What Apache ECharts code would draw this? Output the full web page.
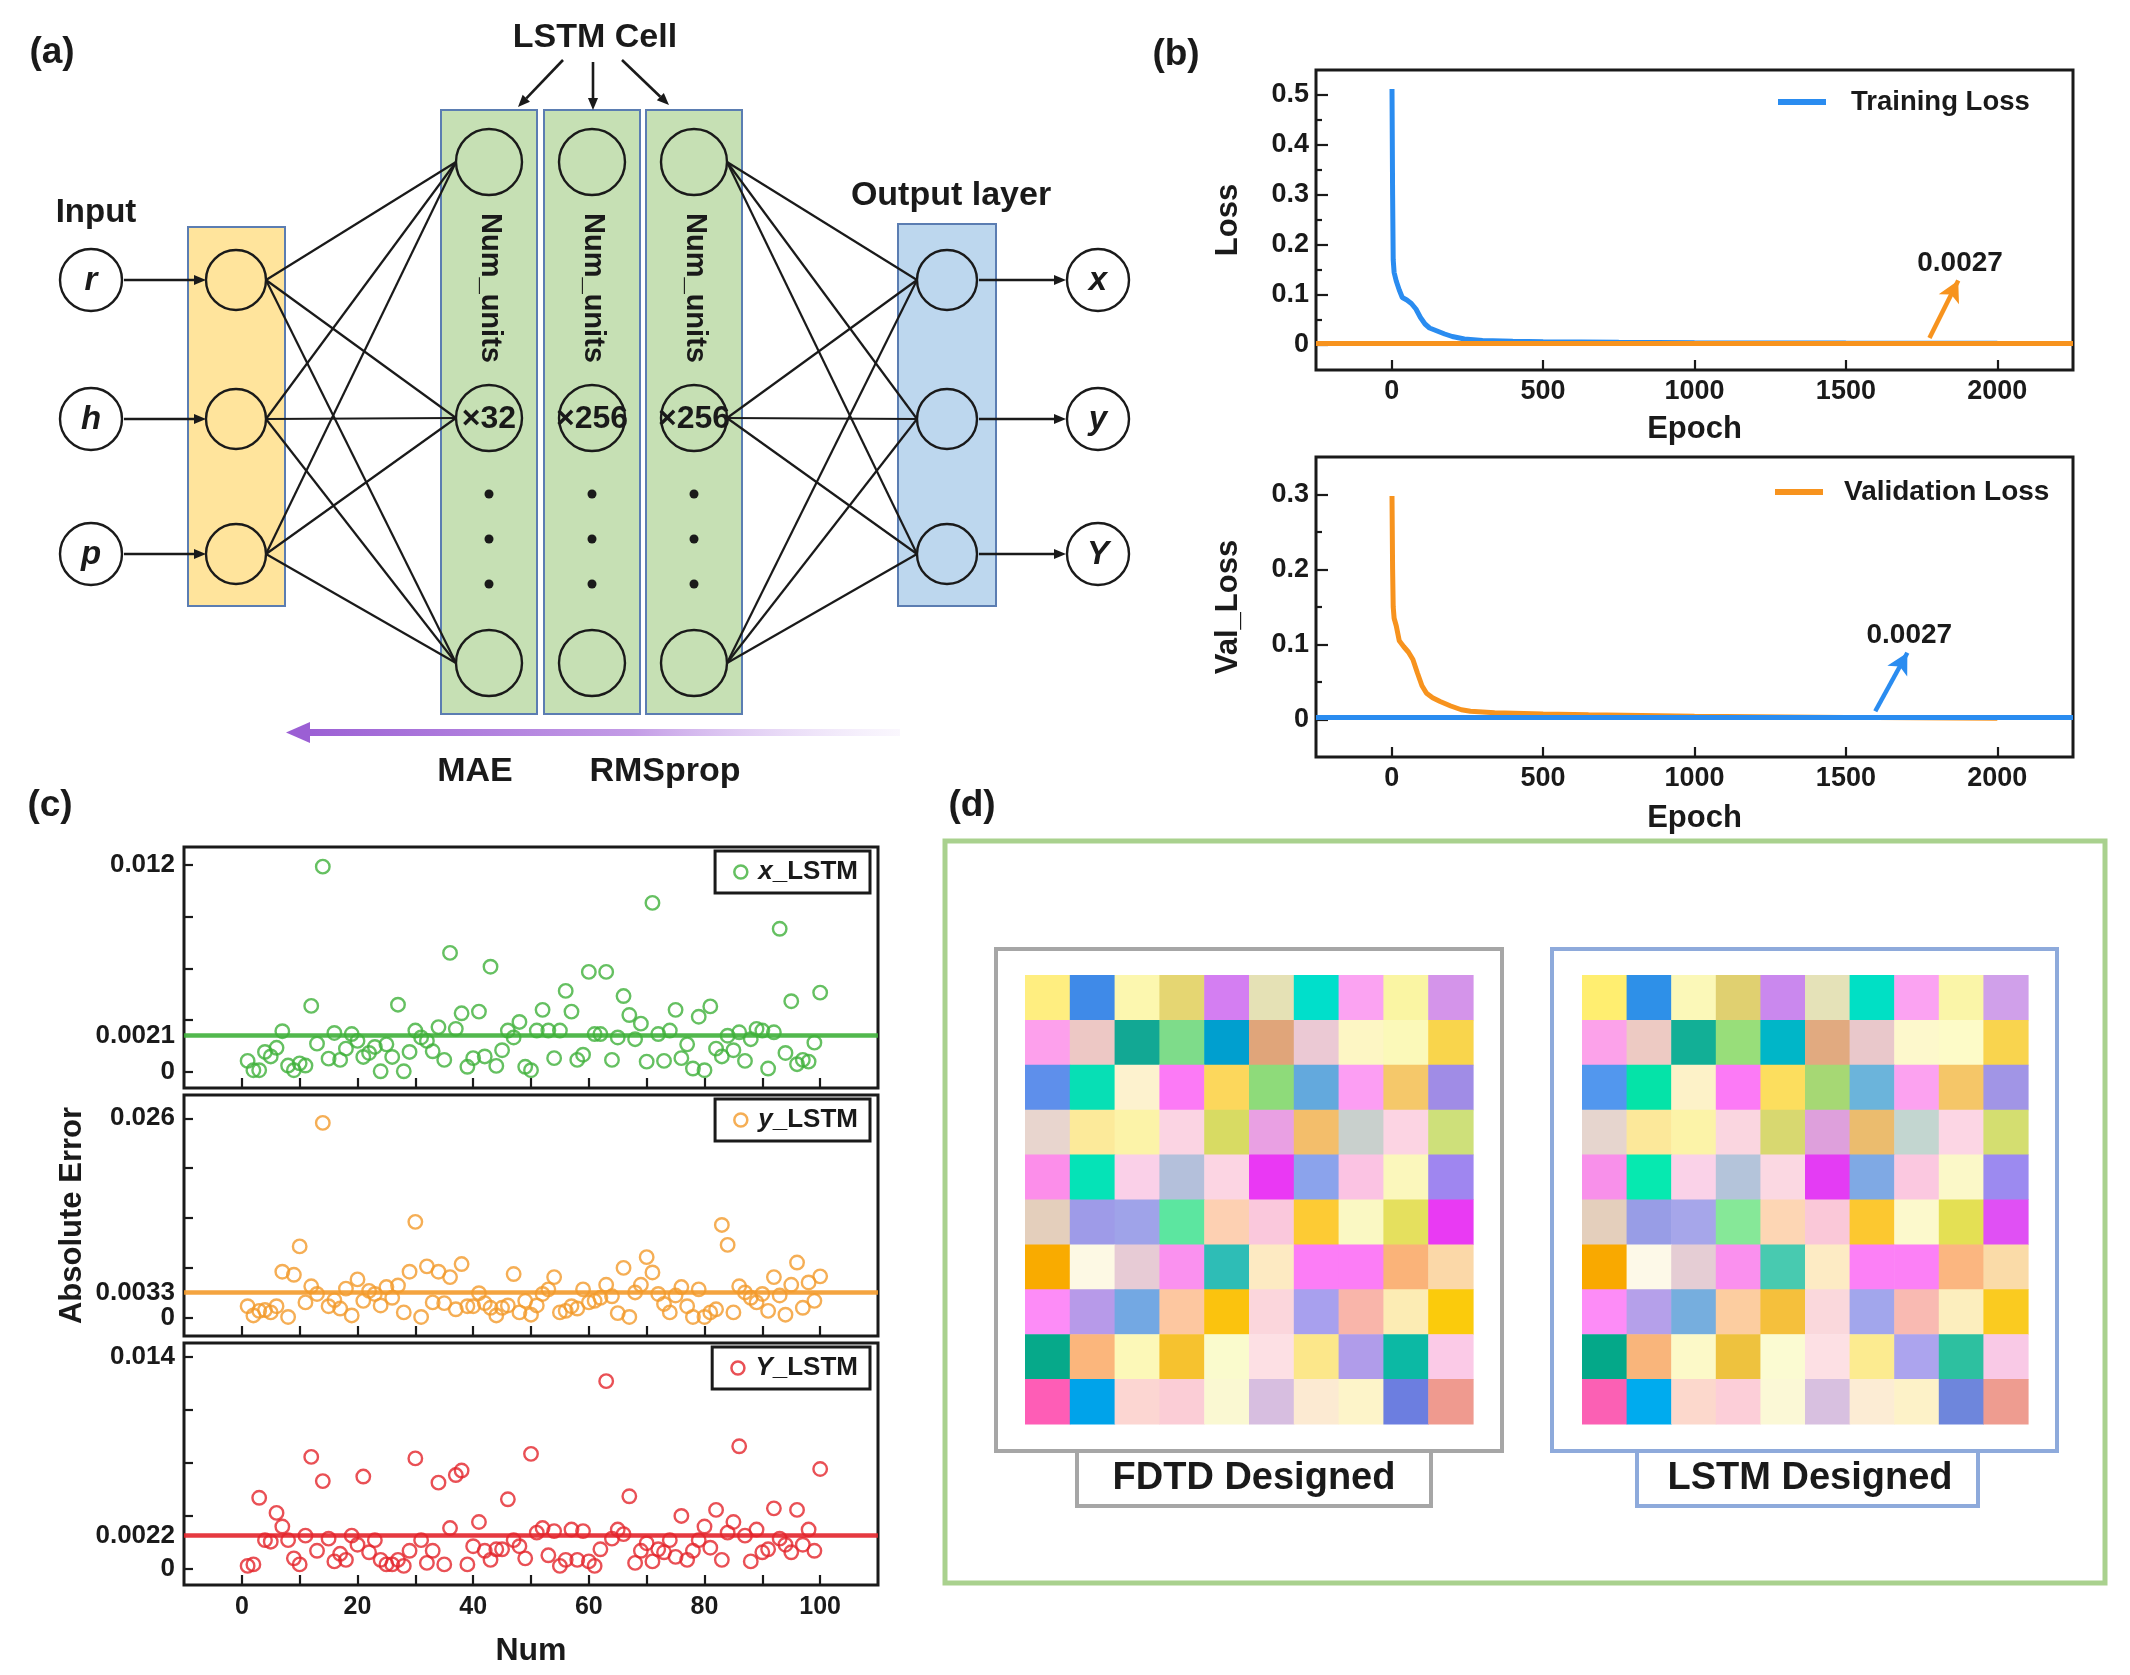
<!DOCTYPE html>
<html><head><meta charset="utf-8">
<script src="https://cdn.jsdelivr.net/npm/echarts@6/dist/echarts.min.js"></script>
<style>html,body{margin:0;padding:0;background:#fff}#c{width:2130px;height:1675px}</style>
</head><body><div id="c"></div>
<script>
const FONT = '"Liberation Sans", Arial, Helvetica, sans-serif';

// ---------- (b) loss curves ----------
const trainEpochs = [1,3,5,8,15,25,35,50,65,80,95,110,125,150,175,200,240,300,400,500,750,1000,1500,2000];
const trainLoss   = [0.512,0.30,0.17,0.145,0.128,0.11,0.095,0.09,0.083,0.072,0.055,0.042,0.034,0.028,0.022,0.017,0.012,0.009,0.0075,0.0066,0.0055,0.0047,0.0038,0.0033];
const valEpochs   = [1,3,5,8,15,25,40,55,70,85,100,115,135,160,195,230,260,340,500,650,1000,1300,1600,2000];
const valLoss     = [0.298,0.2,0.15,0.135,0.125,0.105,0.097,0.09,0.08,0.062,0.045,0.035,0.029,0.024,0.018,0.013,0.011,0.009,0.0075,0.0065,0.0045,0.0035,0.0025,0.0015];
const finalLoss = 0.0027;
const epochTicks = [0,500,1000,1500,2000];
const lossLabels = [0,0.1,0.2,0.3,0.4,0.5];
const lossMinorTicks = [0.05,0.15,0.25,0.35,0.45];
const valLossLabels = [0,0.1,0.2,0.3];
const valLossMinorTicks = [0.05,0.15,0.25];

// ---------- (c) absolute errors (samples 1..100) ----------
const xErr = [0.00064,0.0001,0.0001,0.00116,0.0009,0.0014,0.00236,0.00037,0.0001,0.0005,
0.00037,0.00383,0.00164,0.0119,0.00077,0.00226,0.0007,0.00135,0.0022,0.0018,
0.00087,0.0011,0.00145,0.00004,0.0016,0.00087,0.0039,0.00004,0.00116,0.0024,
0.002,0.0018,0.0012,0.0026,0.0007,0.0069,0.0025,0.0034,0.0003,0.0008,
0.0035,0.0009,0.0061,0.00035,0.00126,0.0024,0.002,0.0029,0.0003,0.0001,
0.0024,0.0036,0.0024,0.0008,0.0024,0.0047,0.0035,0.0007,0.001,0.0058,
0.0022,0.0022,0.0058,0.0007,0.002,0.0044,0.0033,0.0019,0.0028,0.0006,
0.0098,0.0022,0.00064,0.0024,0.0036,0.0008,0.0016,0.0002,0.0032,0.0001,
0.0038,0.00135,0.0009,0.0021,0.00126,0.0023,0.00064,0.0019,0.0025,0.0024,
0.0002,0.0023,0.0083,0.0011,0.0041,0.00045,0.0007,0.0006,0.0017,0.0046];
const yErr = [0.0015,0.0003,0.0009,0.001,0.0007,0.0015,0.006,0.0001,0.0056,0.0093,
0.002,0.0041,0.0031,0.0254,0.0015,0.0023,0.0012,0.0038,0.0003,0.005,
0.0022,0.0035,0.0031,0.0016,0.004,0.0026,0.0042,0.0007,0.006,0.0125,
0.0001,0.0067,0.002,0.006,0.0019,0.0053,0.0011,0.007,0.0015,0.0015,
0.0032,0.0019,0.0013,0.0003,0.0013,0.0016,0.0057,0.0007,0.0022,0.0004,
0.0016,0.0031,0.0037,0.0053,0.0007,0.0009,0.0015,0.0012,0.0037,0.002,
0.0022,0.0026,0.0043,0.0028,0.0006,0.0065,0.0001,0.0033,0.0043,0.0079,
0.0059,0.0031,0.0018,0.0007,0.0029,0.004,0.0015,0.0001,0.0037,0.0001,
0.0007,0.0011,0.0121,0.0095,0.0007,0.0041,0.0033,0.0026,0.002,0.0031,
0.0009,0.0053,0.0029,0.0004,0.0043,0.0072,0.0013,0.0046,0.0022,0.0054];
const YErr = [0.0002,0.0003,0.0047,0.0019,0.0018,0.0037,0.0028,0.0019,0.0007,0.0003,
0.0022,0.0074,0.0012,0.0058,0.002,0.0005,0.001,0.0006,0.0022,0.0016,
0.0061,0.0011,0.0019,0.0006,0.0003,0.0003,0.0006,0.0002,0.0012,0.0073,
0.0019,0.0004,0.0012,0.0057,0.0003,0.0027,0.0062,0.0065,0.0003,0.0015,
0.0031,0.0012,0.0006,0.0013,0.0013,0.0046,0.0019,0.0015,0.0007,0.0076,
0.0024,0.0027,0.0009,0.0025,0.0002,0.0006,0.0026,0.0006,0.0025,0.0005,
0.0002,0.0013,0.0124,0.002,0.0026,0.0023,0.0048,0.0004,0.0012,0.0017,
0.0005,0.0013,0.0011,0.0019,0.0008,0.0035,0.0006,0.0012,0.0019,0.0028,
0.0014,0.0039,0.0006,0.0024,0.0031,0.0081,0.0022,0.0005,0.0026,0.0011,
0.0013,0.004,0.002,0.0016,0.0011,0.0039,0.0016,0.0026,0.0012,0.0066];
const meanX = 0.0021, meanY = 0.0033, meanYY = 0.0022;
const numLabels = [0,20,40,60,80,100];
const numTicks = [0,10,20,30,40,50,60,70,80,90,100];
const xErrLabels = [0,0.012];
const xErrTicks = [0,0.003,0.006,0.009,0.012];
const yErrLabels = [0,0.026];
const yErrTicks = [0,0.0065,0.013,0.0195,0.026];
const YErrLabels = [0,0.014];
const YErrTicks = [0,0.0035,0.007,0.0105,0.014];

// ---------- (d) 10x10 colour cells (row by row) ----------
const FDTD_CELLS = [
'#FFEE80','#3F8AE8','#FCF7AF','#E5D672','#D47EF2','#E5E1B5','#00DFCB','#FBA3F2','#FAF5A3','#D494EA',
'#FDA0EC','#EDC8C5','#12A894','#7EDC8A','#009FCF','#E0A57A','#EBC9D4','#FDF6C4','#FBF9B9','#F9D54C',
'#5E8FEB','#07DFB5','#FDF2CE','#FC7AF6','#FCD75C','#8EDB7A','#63A9DD','#FC9EF3','#F5C86A','#A08CE6',
'#E8D5CE','#FCEA9A','#FCF3A8','#FBD4E3','#D8DB63','#E9A0E3','#F3BE6B','#C9D0CD','#FCD4E3','#CEE07A',
'#FC8EEA','#05E3B7','#FAD0E8','#B4C0DB','#FCD5E3','#EA38F4','#8BA3EC','#FBC3E3','#FBF7BC','#9F86F0',
'#E4CFBC','#9E9BE8','#9FA3E9','#5CE6A0','#FDD0B2','#FAC8DC','#FDCB34','#FAF8C3','#E5E05E','#E93AF3',
'#F9AB00','#FDF9E4','#E7CBD5','#FA91EF','#2EBDB6','#FDEAC2','#FC7DF6','#FC7DF6','#FAB379','#FBD8A8',
'#FD8CF7','#B79AE9','#73A8E3','#FDC7A0','#FBC30E','#FBD6DC','#A8A0EE','#F9B5AA','#FCECB4','#FBCB0C',
'#06A98A','#FBB67C','#FCF8B8','#F6C22F','#FAFBCD','#FDE0E4','#FCE78A','#B09CEA','#0CB9A4','#FBCAE7',
'#FE5DB6','#00A3EA','#FCD6D2','#FBCDD6','#FAF8D2','#D7BEE0','#FCEAD2','#FDF4C9','#6C7EE0','#EF9A8F'];
const LSTM_CELLS = [
'#FFEE70','#2E90E8','#FBF8B8','#E0D070','#CA88EE','#E5E2B8','#00E0C5','#FBA3F2','#FAF5A8','#D0A0EA',
'#FCA2EA','#EDCAC3','#12AF96','#98DE7A','#00B6C8','#E1AA80','#E9C8CB','#FDF8CC','#FDFBC8','#F9D44E',
'#5297EE','#05E3A8','#FDF2C8','#FC7AF6','#FCDE5E','#A6D874','#6BB4DB','#FCA2F0','#F5C668','#A195E6',
'#E6D5CE','#FCE89A','#FCF3A8','#FAD6E0','#D8D870','#DEA0DC','#EBBC6E','#C3D6D0','#FCD6E4','#D4DE70',
'#F890EA','#06E9B0','#FAD2E8','#B4C4DA','#FBD8E2','#E43CF4','#7FA9E4','#FBC8E0','#FBF8C8','#9C8AF0',
'#E4CFBC','#989DE6','#A6A6EA','#86E898','#FDD6B4','#FAC8D8','#FCC830','#FCF9CC','#E4E054','#E050F4',
'#F9A900','#FDF9E8','#E5CDD4','#FA90EE','#48CAB0','#FDEBC4','#FC80F6','#FC80F6','#FBB680','#FADBA8',
'#FD8CF7','#B5A0EA','#76AEDE','#FCCDA0','#F5C03C','#FAD8DC','#A2A6EC','#F9BAB2','#FCEEBE','#FACB20',
'#04A889','#F9B57B','#FCF9C8','#EEC23E','#FBFBD2','#FDE0E4','#FCEB90','#ACA4EE','#2DC0A0','#F9C9E6',
'#FB60B4','#00ABEE','#FCD8CC','#FCCED8','#FBF8D6','#D8C0E0','#FCECD4','#FDF2C8','#6E86DC','#EE9C90'];

// ================= build =================
const BLUE = '#2a8cf0', ORANGE = '#f7931e';
const GREEN = '#3fb03a', ORANGE2 = '#f39a2b', RED = '#e3242b';
const INK = '#1a1a1a';

const txt = (size, extra) => Object.assign({fontFamily: FONT, fontWeight: 'bold', fontSize: size, color: INK}, extra || {});
const fmt = v => String(v);

function grid(l, t, w, h, show) {
  return {left: l, top: t, width: w, height: h, containLabel: false, show: !!show,
          borderColor: INK, borderWidth: 3, backgroundColor: 'transparent'};
}
const grids = [
  grid(1316, 70, 757, 300, true),
  grid(1316, 457, 757, 300, true),
  grid(184, 847, 694, 241, true),
  grid(184, 1095, 694, 241, true),
  grid(184, 1343, 694, 242, true),
  grid(1025, 975, 448, 449, false),
  grid(1582, 975, 446, 449, false)
];

function valAxis(gi, min, max, labels, ticks, tickLen, labelSize, margin, extra) {
  return Object.assign({
    type: 'value', gridIndex: gi, min, max, splitLine: {show: false}, position: 'left',
    axisLine: {show: false, onZero: false},
    axisTick: {show: ticks !== null, inside: true, length: tickLen, customValues: ticks || [], lineStyle: {color: INK, width: 2.2}},
    axisLabel: {show: labels !== null, customValues: labels || [], formatter: fmt, margin: margin,
                hideOverlap: false, showMinLabel: true, showMaxLabel: true, ...txt(labelSize)}
  }, extra || {});
}
const hidden = (gi, inverse) => ({type: 'value', gridIndex: gi, min: -0.5, max: 9.5, show: false, inverse: !!inverse, axisLine: {onZero: false}});
const nameOpt = (name, gap, size) => ({name, nameLocation: 'middle', nameGap: gap, nameTextStyle: txt(size)});

const xAxes = [
  valAxis(0, -250, 2250, epochTicks, epochTicks, 10, 27, 8, Object.assign({position: 'bottom'}, nameOpt('Epoch', 44, 31))),
  valAxis(1, -250, 2250, epochTicks, epochTicks, 10, 27, 8, Object.assign({position: 'bottom'}, nameOpt('Epoch', 46, 31))),
  valAxis(2, -10, 110, null, numTicks, 10, 25, 10, {position: 'bottom'}),
  valAxis(3, -10, 110, null, numTicks, 10, 25, 10, {position: 'bottom'}),
  valAxis(4, -10, 110, numLabels, numTicks, 10, 25, 10, Object.assign({position: 'bottom'}, nameOpt('Num', 50, 32))),
  hidden(5), hidden(6)
];

const cTopRange = [-0.00093, 0.01304], cMidRange = [-0.00238, 0.02904], cBotRange = [-0.00106, 0.01492];
const yAxes = [
  valAxis(0, -0.05, 0.55, lossLabels, lossLabels, 12, 27, 7, nameOpt('Loss', 72, 31)),
  valAxis(1, -0.05, 0.35, valLossLabels, valLossLabels, 12, 27, 7, nameOpt('Val_Loss', 72, 31)),
  valAxis(2, cTopRange[0], cTopRange[1], xErrLabels, xErrTicks, 9, 26, 9),
  valAxis(3, cMidRange[0], cMidRange[1], yErrLabels, yErrTicks, 9, 26, 9, nameOpt('Absolute Error', 96, 31)),
  valAxis(4, cBotRange[0], cBotRange[1], YErrLabels, YErrTicks, 9, 26, 9),
  hidden(5, true), hidden(6, true),
  // minor ticks for panel (b)
  valAxis(0, -0.05, 0.55, null, lossMinorTicks, 6, 27, 7),
  valAxis(1, -0.05, 0.35, null, valLossMinorTicks, 6, 27, 7),
  // mean-value labels for panel (c)
  valAxis(2, cTopRange[0], cTopRange[1], [meanX], null, 9, 26, 9),
  valAxis(3, cMidRange[0], cMidRange[1], [meanY], null, 9, 26, 9),
  valAxis(4, cBotRange[0], cBotRange[1], [meanYY], null, 9, 26, 9)
];

const zip = (xs, ys) => xs.map((x, i) => [x, ys[i]]);
const idx = arr => arr.map((v, i) => [i + 1, v]);

function lossSeries(name, xi, data, color, refColor, arrowFrom, arrowTo) {
  return {
    name, type: 'line', xAxisIndex: xi, yAxisIndex: xi, data, showSymbol: false, symbol: 'none',
    lineStyle: {color, width: 5}, itemStyle: {color}, z: 3,
    markLine: {
      silent: true, symbol: ['none', 'none'], animation: false, precision: 6,
      data: [
        {yAxis: finalLoss, lineStyle: {color: refColor, width: 5, type: 'solid'}, label: {show: false}},
        [{coord: arrowFrom, symbol: 'none'},
         {coord: arrowTo, symbol: 'arrow', symbolSize: [17, 21],
          lineStyle: {color: refColor, width: 4.5, type: 'solid'},
          label: {show: true, position: 'end', formatter: String(finalLoss), distance: 4, ...txt(28)}}]
      ]
    }
  };
}

function errSeries(name, gi, vals, mean, color) {
  return {
    name, type: 'scatter', xAxisIndex: gi, yAxisIndex: gi, data: idx(vals),
    symbol: 'circle', symbolSize: 13.5, z: 4,
    itemStyle: {color: 'rgba(255,255,255,0)', borderColor: color, borderWidth: 2.4},
    markLine: {silent: true, symbol: ['none', 'none'], animation: false, precision: 6, label: {show: false},
      data: [{yAxis: mean}], lineStyle: {color, width: 4.5, type: 'solid', opacity: 0.9}}
  };
}

function cellSeries(gi, colors) {
  const data = colors.map((c, i) => [i % 10, Math.floor(i / 10), i]);
  return {
    type: 'custom', xAxisIndex: gi, yAxisIndex: gi, data, silent: true,
    renderItem: (params, api) => {
      const p = api.coord([api.value(0), api.value(1)]);
      const s = api.size([1, 1]);
      return {type: 'rect', shape: {x: p[0] - s[0] / 2, y: p[1] - s[1] / 2, width: s[0] + 0.6, height: s[1] + 0.6},
              style: {fill: colors[api.value(2)]}};
    }
  };
}

const series = [
  lossSeries('Training Loss', 0, zip(trainEpochs, trainLoss), BLUE, ORANGE, [1776, 0.014], [1871, 0.129]),
  lossSeries('Validation Loss', 1, zip(valEpochs, valLoss), ORANGE, BLUE, [1597, 0.011], [1703, 0.089]),
  errSeries('x_LSTM', 2, xErr, meanX, GREEN),
  errSeries('y_LSTM', 3, yErr, meanY, ORANGE2),
  errSeries('Y_LSTM', 4, YErr, meanYY, RED),
  cellSeries(5, FDTD_CELLS),
  cellSeries(6, LSTM_CELLS)
];

const richLegend = {
  i: {fontStyle: 'italic', fontWeight: 'bold', fontSize: 26, fontFamily: FONT, color: INK},
  n: {fontWeight: 'bold', fontSize: 26, fontFamily: FONT, color: INK}
};
function errLegend(name, color, top) {
  return {
    data: [{name, icon: 'circle', itemStyle: {color: 'rgba(255,255,255,0)', borderColor: color, borderWidth: 2.5}}],
    right: 2130 - 870, top, orient: 'horizontal', selectedMode: false,
    itemWidth: 13, itemHeight: 13, padding: [8, 12, 8, 18], itemGap: 0,
    borderColor: INK, borderWidth: 3, backgroundColor: '#fff',
    formatter: n => '{i|' + n.charAt(0) + '}{n|' + n.slice(1) + '}',
    textStyle: {rich: richLegend, padding: [0, 0, 0, 6]}
  };
}
const legends = [
  {data: ['Training Loss'], left: 1778, top: 88, icon: 'rect', itemWidth: 48, itemHeight: 6, padding: 0, selectedMode: false,
   textStyle: Object.assign(txt(27.5), {padding: [0, 0, 0, 20]})},
  {data: ['Validation Loss'], left: 1775, top: 478, icon: 'rect', itemWidth: 48, itemHeight: 6, padding: 0, selectedMode: false,
   textStyle: Object.assign(txt(28), {padding: [0, 0, 0, 16]})},
  errLegend('x_LSTM', GREEN, 851),
  errLegend('y_LSTM', ORANGE2, 1099),
  errLegend('Y_LSTM', RED, 1347)
];

// ================= diagram (a) and frames (d) =================
const g = [];
function T(x, y, text, size, o) {
  o = o || {};
  const font = (o.italic ? 'italic ' : '') + (o.weight || 'bold') + ' ' + size + 'px ' + FONT;
  g.push({type: 'text', x, y, rotation: o.rot || 0, z: 20,
    style: {text, x: 0, y: 0, font, fill: o.color || INK, align: 'center', verticalAlign: 'middle',
            textAlign: 'center', textVerticalAlign: 'middle'}});
}
function C(cx, cy, r, fill, lw) {
  g.push({type: 'circle', shape: {cx, cy, r}, z: 15, style: {fill: fill, stroke: INK, lineWidth: lw || 2.4}});
}
function R(x, y, w, h, fill, stroke, lw, z) {
  g.push({type: 'rect', shape: {x, y, width: w, height: h}, z: z || 5, style: {fill: fill, stroke: stroke, lineWidth: lw}});
}
function L(x1, y1, x2, y2, color, w, z) {
  g.push({type: 'line', shape: {x1, y1, x2, y2}, z: z || 10, style: {stroke: color || INK, lineWidth: w || 2}});
}
function A(x1, y1, x2, y2, color, w, head) {
  const a = Math.atan2(y2 - y1, x2 - x1);
  const bx = x2 - head * Math.cos(a), by = y2 - head * Math.sin(a);
  L(x1, y1, bx, by, color, w, 12);
  const hw = head * 0.42;
  g.push({type: 'polygon', z: 12, shape: {points: [[x2, y2], [bx + hw * Math.sin(a), by - hw * Math.cos(a)], [bx - hw * Math.sin(a), by + hw * Math.cos(a)]]},
          style: {fill: color}});
}

// panel labels
T(52, 53, '(a)', 37);
T(1176, 55, '(b)', 37);
T(50, 806, '(c)', 37);
T(972, 806, '(d)', 37);

// (a) network diagram
const rows = [280, 419, 554];
const inX = 91, yelX = 236, outX = 947, labX = 1098;
const colX = [489, 592, 694], colLeft = [441, 544, 646];
const cellY = [162, 418, 663];
const boxStroke = '#5b7db2';

R(188, 227, 97, 379, '#ffe49c', boxStroke, 2);
colLeft.forEach(x => R(x, 110, 96, 604, '#c6e0b4', boxStroke, 2));
R(898, 224, 98, 382, '#bdd7ee', boxStroke, 2);

// connections
rows.forEach(ry => cellY.forEach(cy => L(yelX + 30, ry, colX[0] - 33, cy, INK, 2.2)));
rows.forEach(ry => cellY.forEach(cy => L(colX[2] + 33, cy, outX - 30, ry, INK, 2.2)));

const inNames = ['r', 'h', 'p'], outNames = ['x', 'y', 'Y'];
rows.forEach((ry, i) => {
  C(inX, ry, 31, '#fff');
  T(inX, ry + 1, inNames[i], 33, {italic: true});
  A(inX + 33, ry, yelX - 30, ry, INK, 2.6, 12);
  C(yelX, ry, 30, '#ffe49c');
  C(outX, ry, 30, '#bdd7ee');
  A(outX + 32, ry, labX - 32, ry, INK, 2.6, 12);
  C(labX, ry, 31, '#fff');
  T(labX, ry + 1, outNames[i], 33, {italic: true});
});
const mult = ['\u00d732', '\u00d7256', '\u00d7256'];
colX.forEach((x, i) => {
  cellY.forEach(cy => C(x, cy, 33, '#c6e0b4'));
  [494, 539, 584].forEach(dy => g.push({type: 'circle', z: 15, shape: {cx: x, cy: dy, r: 4.5}, style: {fill: INK}}));
  T(x + 1, 288, 'Num_units', 29, {rot: -Math.PI / 2});
  T(x, 419, mult[i], 32);
});
T(96, 213, 'Input', 33);
T(951, 196, 'Output layer', 34);
T(595, 38, 'LSTM Cell', 34);
A(563, 60, 518, 107, INK, 2.6, 12);
A(593, 62, 593, 110, INK, 2.6, 12);
A(622, 60, 669, 105, INK, 2.6, 12);
// purple back-propagation arrow
g.push({type: 'rect', z: 10, shape: {x: 305, y: 729, width: 595, height: 7},
  style: {fill: {type: 'linear', x: 0, y: 0, x2: 1, y2: 0, colorStops: [
    {offset: 0, color: '#9b5fd4'}, {offset: 0.55, color: '#c39be6'}, {offset: 1, color: 'rgba(230,215,248,0.2)'}]}}});
g.push({type: 'polygon', z: 11, shape: {points: [[286, 732.5], [310, 722], [310, 743]]}, style: {fill: '#9b5fd4'}});
T(475, 772, 'MAE', 34);
T(665, 772, 'RMSprop', 34);

// (d) frames and captions
R(945, 841, 1160, 742, 'none', '#a9d18e', 5, 1);
R(996, 949, 506, 502, 'none', '#a6a6a6', 4, 6);
R(1552, 949, 505, 502, 'none', '#8eaadb', 4, 6);
R(1077, 1451, 354, 55, '#fff', '#a6a6a6', 4, 7);
R(1637, 1451, 341, 55, '#fff', '#8eaadb', 4, 7);
T(1254, 1479, 'FDTD Designed', 38);
T(1810, 1479, 'LSTM Designed', 38);

const chart = echarts.init(document.getElementById('c'), null, {renderer: 'canvas', width: 2130, height: 1675});
chart.setOption({
  backgroundColor: '#ffffff',
  animation: false,
  textStyle: {fontFamily: FONT},
  grid: grids, xAxis: xAxes, yAxis: yAxes,
  legend: legends,
  series: series,
  graphic: {elements: g}
});
</script></body></html>
